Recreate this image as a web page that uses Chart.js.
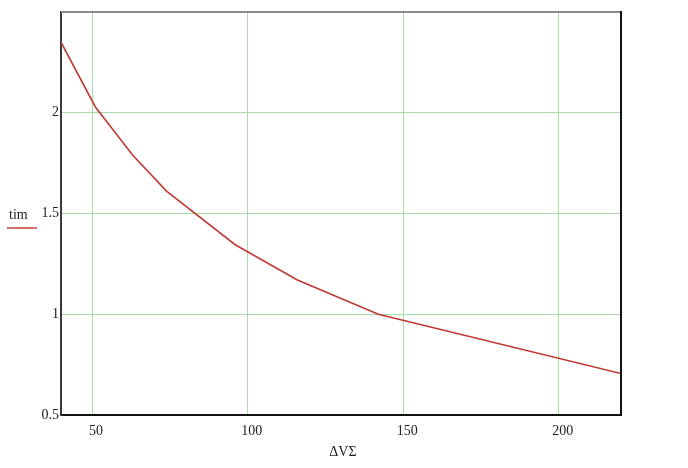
<script src="https://cdn.jsdelivr.net/npm/chart.js@4/dist/chart.umd.min.js"></script>

<style>
  body { margin: 0; background: #fff; }
</style>
<canvas id="canvas" width="688" height="468"></canvas>
<script>
// values
const dV = [40, 51, 63, 74, 96, 116, 142, 220];
const tim = [2.35, 2.03, 1.79, 1.61, 1.345, 1.17, 1.0, 0.706];
const xTicks = [50, 100, 150, 200];
const yTicks = [0.5, 1, 1.5, 2];

const serif = "'Liberation Serif', 'DejaVu Serif', serif";

// top/right frame + legend + x title
const extras = {
  id: 'extras',
  afterDraw(chart) {
    const ctx = chart.ctx, a = chart.chartArea;
    ctx.save();
    ctx.lineWidth = 2;
    ctx.strokeStyle = '#8a8a8a';
    ctx.beginPath();
    ctx.moveTo(a.left, a.top);
    ctx.lineTo(a.right, a.top);
    ctx.stroke();
    ctx.strokeStyle = '#111';
    ctx.beginPath();
    ctx.moveTo(a.right, a.top - 1);
    ctx.lineTo(a.right, a.bottom);
    ctx.stroke();

    ctx.font = '14px ' + serif;
    ctx.fillStyle = '#222';
    ctx.textAlign = 'left';
    ctx.textBaseline = 'middle';
    ctx.fillText('tim', 9, 215);
    ctx.strokeStyle = '#c0403a';
    ctx.lineWidth = 1.5;
    ctx.beginPath();
    ctx.moveTo(7, 228);
    ctx.lineTo(37, 228);
    ctx.stroke();

    ctx.textAlign = 'center';
    ctx.fillText('\u0394V\u03A3', 343, 452);
    ctx.restore();
  }
};

new Chart(document.getElementById('canvas').getContext('2d'), {
  type: 'line',
  data: {
    datasets: [{
      label: 'tim',
      data: dV.map((x, i) => ({ x: x, y: tim[i] })),
      borderColor: '#bf3a35',
      borderWidth: 1.6,
      pointRadius: 0,
      tension: 0,
      fill: false
    }]
  },
  options: {
    responsive: false,
    animation: false,
    layout: { padding: { top: 12, right: 67, left: 0, bottom: 0 } },
    plugins: { legend: { display: false }, tooltip: { enabled: false } },
    scales: {
      x: {
        type: 'linear',
        min: 40,
        max: 220,
        afterBuildTicks: s => { s.ticks = xTicks.map(v => ({ value: v })); },
        afterFit: s => { s.height = 53; },
        grid: { color: '#a6dca6', lineWidth: 1, drawTicks: false },
        border: { color: '#111', width: 2 },
        ticks: { padding: 8, labelOffset: 4, maxRotation: 0, color: '#222', font: { family: serif, size: 14 },
          callback: v => String(v) }
      },
      y: {
        type: 'linear',
        min: 0.5,
        max: 2.5,
        afterBuildTicks: s => { s.ticks = yTicks.map(v => ({ value: v })); },
        afterFit: s => { s.width = 61; },
        grid: { color: '#a6dca6', lineWidth: 1, drawTicks: false },
        border: { color: '#3a3a3a', width: 2 },
        ticks: { padding: 2, color: '#222', font: { family: serif, size: 14 },
          callback: v => String(v) }
      }
    }
  },
  plugins: [extras]
});
</script>
